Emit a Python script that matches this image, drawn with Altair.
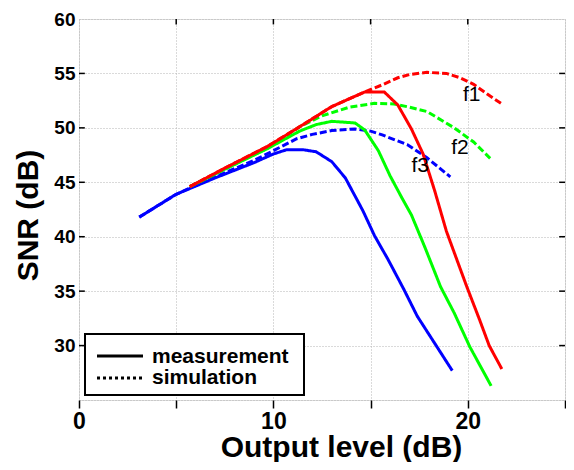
import altair as alt
import pandas as pd

# ---------------- data ----------------
f3_meas_x = [3.1, 5.0, 7.0, 9.0, 10.0, 10.7, 11.5, 12.2, 13.0, 13.7, 14.6, 15.2, 15.9, 16.7, 17.4, 18.3, 19.2]
f3_meas_y = [41.8, 43.9, 45.4, 46.8, 47.6, 48.0, 48.0, 47.8, 46.9, 45.4, 42.4, 40.1, 37.9, 35.2, 32.7, 30.2, 27.7]
f3_sim_x = [3.1, 5.0, 7.0, 9.0, 10.0, 11.2, 12.0, 13.0, 14.2, 15.0, 15.6, 16.9, 17.9, 19.1]
f3_sim_y = [41.8, 43.9, 45.5, 47.0, 47.9, 49.0, 49.4, 49.75, 49.9, 49.7, 49.35, 48.45, 47.25, 45.5]

f2_meas_x = [5.7, 7.5, 9.7, 11.35, 12.2, 13.0, 14.2, 14.7, 15.4, 16.0, 16.6, 17.1, 17.8, 18.6, 19.3, 20.1, 21.2]
f2_meas_y = [44.6, 46.2, 48.1, 49.7, 50.3, 50.6, 50.45, 49.8, 47.9, 45.6, 43.6, 42.0, 39.0, 35.4, 33.0, 29.9, 26.3]
f2_sim_x = [5.7, 7.5, 9.7, 11.35, 12.5, 13.9, 15.2, 16.2, 17.0, 17.9, 19.3, 20.3, 21.15]
f2_sim_y = [44.6, 46.2, 48.15, 50.1, 51.1, 51.9, 52.25, 52.2, 51.9, 51.5, 50.0, 48.7, 47.2]

f1_meas_x = [5.7, 7.5, 9.7, 11.35, 13.0, 14.7, 15.7, 16.4, 17.1, 17.7, 18.3, 18.9, 19.95, 20.6, 21.1, 21.75]
f1_meas_y = [44.6, 46.3, 48.3, 50.1, 51.95, 53.3, 53.3, 52.1, 49.9, 47.6, 44.2, 40.5, 35.4, 32.4, 30.0, 27.85]
f1_sim_x = [5.7, 7.5, 9.7, 11.35, 13.0, 14.7, 15.6, 16.4, 17.0, 17.9, 18.9, 19.6, 20.3, 21.0, 21.75]
f1_sim_y = [44.6, 46.3, 48.3, 50.1, 51.95, 53.3, 53.95, 54.6, 54.9, 55.1, 55.0, 54.6, 54.0, 53.1, 52.2]

curve_labels = ["f1", "f2", "f3"]
curve_label_x = [20.2, 19.6, 17.55]
curve_label_y = [53.0, 48.15, 46.5]

x_ticks = [0, 5, 10, 15, 20, 25]
y_ticks = [25, 30, 35, 40, 45, 50, 55, 60]
legend_labels = ["measurement", "simulation"]

colors = {"f1": "#ff0000", "f2": "#00ff00", "f3": "#0000ff"}

rows = []
for name, kind, xs, ys in [
    ("f3", "measurement", f3_meas_x, f3_meas_y),
    ("f3", "simulation", f3_sim_x, f3_sim_y),
    ("f2", "measurement", f2_meas_x, f2_meas_y),
    ("f2", "simulation", f2_sim_x, f2_sim_y),
    ("f1", "measurement", f1_meas_x, f1_meas_y),
    ("f1", "simulation", f1_sim_x, f1_sim_y),
]:
    for i, (x, y) in enumerate(zip(xs, ys)):
        rows.append({"x": x, "y": y, "freq": name, "kind": kind, "i": i})
df = pd.DataFrame(rows)

FONT = "Liberation Sans"
W, H = 486, 381

x_scale = alt.Scale(domain=[0, 25], nice=False, zero=False)
y_scale = alt.Scale(domain=[25, 60], nice=False, zero=False)

x_axis = alt.Axis(
    values=x_ticks,
    labelExpr="datum.value % 10 == 0 ? datum.label : ''",
    title="Output level (dB)",
    titleFont=FONT, titleFontSize=30, titleFontWeight="bold", titleColor="black",
    titleX=262, titleY=56, titleBaseline="alphabetic", titleAlign="center",
    labelFont=FONT, labelFontSize=23, labelFontWeight="bold", labelColor="black",
    labelPadding=2, labelFlush=False, labelOverlap=False,
    tickSize=8, tickColor="black", tickWidth=1.5,
    grid=True, gridColor="#b4b4b4", gridDash=[1, 2], gridWidth=1,
    domain=False,
)
y_axis = alt.Axis(
    values=y_ticks,
    labelExpr="datum.value >= 30 ? datum.label : ''",
    title="SNR (dB)",
    titleFont=FONT, titleFontSize=30, titleFontWeight="bold", titleColor="black",
    titleX=-42, titleY=196, titleAngle=270, titleBaseline="alphabetic", titleAlign="center",
    labelFont=FONT, labelFontSize=19, labelFontWeight="bold", labelColor="black",
    labelPadding=4, labelOverlap=False,
    ticks=False,
    grid=True, gridColor="#b4b4b4", gridDash=[1, 2], gridWidth=1,
    domain=False,
)

X = alt.X("x:Q", scale=x_scale, axis=x_axis)
Y = alt.Y("y:Q", scale=y_scale, axis=y_axis)

layers = []
for name in ["f3", "f2", "f1"]:
    layers.append(
        alt.Chart(df)
        .transform_filter(alt.datum.freq == name)
        .mark_line(color=colors[name], strokeWidth=3)
        .encode(
            x=X, y=Y,
            strokeDash=alt.StrokeDash(
                "kind:N",
                scale=alt.Scale(domain=legend_labels, range=[[1, 0], [7, 3]]),
                legend=None,
            ),
            order="i:Q",
        )
    )

# inward tick marks on left, right and top
tick_df_y = pd.DataFrame({"y": y_ticks[1:-1], "a": 0.0, "b": 0.3, "c": 25.0, "d": 24.7})
tick_df_x = pd.DataFrame({"x": x_ticks[1:-1], "t0": 60.0, "t1": 59.5})
left_ticks = alt.Chart(tick_df_y).mark_rule(color="black", strokeWidth=1.5).encode(
    x=alt.X("a:Q", scale=x_scale, axis=x_axis), x2="b:Q", y=Y)
right_ticks = alt.Chart(tick_df_y).mark_rule(color="black", strokeWidth=1.5).encode(
    x=alt.X("c:Q", scale=x_scale, axis=x_axis), x2="d:Q", y=Y)
top_ticks = alt.Chart(tick_df_x).mark_rule(color="black", strokeWidth=1.5).encode(
    x=X, y=alt.Y("t0:Q", scale=y_scale, axis=y_axis), y2="t1:Q")

lab_df = pd.DataFrame({"x": curve_label_x, "y": curve_label_y, "t": curve_labels})
labels = alt.Chart(lab_df).mark_text(
    font=FONT, fontSize=21, color="black", align="center", baseline="middle"
).encode(x=X, y=Y, text="t:N")

# legend box (drawn manually)
one = pd.DataFrame({"k": [0]})
leg_box = alt.Chart(one).mark_rect(fill="white", stroke="black", strokeWidth=2).encode(
    x=alt.value(6), x2=alt.value(225), y=alt.value(315), y2=alt.value(376))
leg_solid = alt.Chart(one).mark_rule(color="black", strokeWidth=3).encode(
    x=alt.value(18), x2=alt.value(64), y=alt.value(337))
leg_dot = alt.Chart(one).mark_rule(color="black", strokeWidth=3, strokeDash=[3, 3]).encode(
    x=alt.value(18), x2=alt.value(64), y=alt.value(359))
leg_df = pd.DataFrame({"t": legend_labels, "yy": [344, 365]})
leg_text = alt.Chart(leg_df).mark_text(
    font=FONT, fontSize=21, fontWeight="bold", color="black", align="left", baseline="alphabetic"
).encode(x=alt.value(73), y=alt.Y("yy:Q", scale=None), text="t:N")

chart = (
    alt.layer(*layers, left_ticks, right_ticks, top_ticks, labels,
              leg_box, leg_solid, leg_dot, leg_text)
    .properties(width=W, height=H, autosize="none",
                padding={"left": 71, "top": 11, "right": 1, "bottom": 62})
    .configure_view(stroke="black", strokeWidth=1.5)
    .configure(background="white")
)

chart.save("out.html", embed_options={"renderer": "svg", "actions": False})
